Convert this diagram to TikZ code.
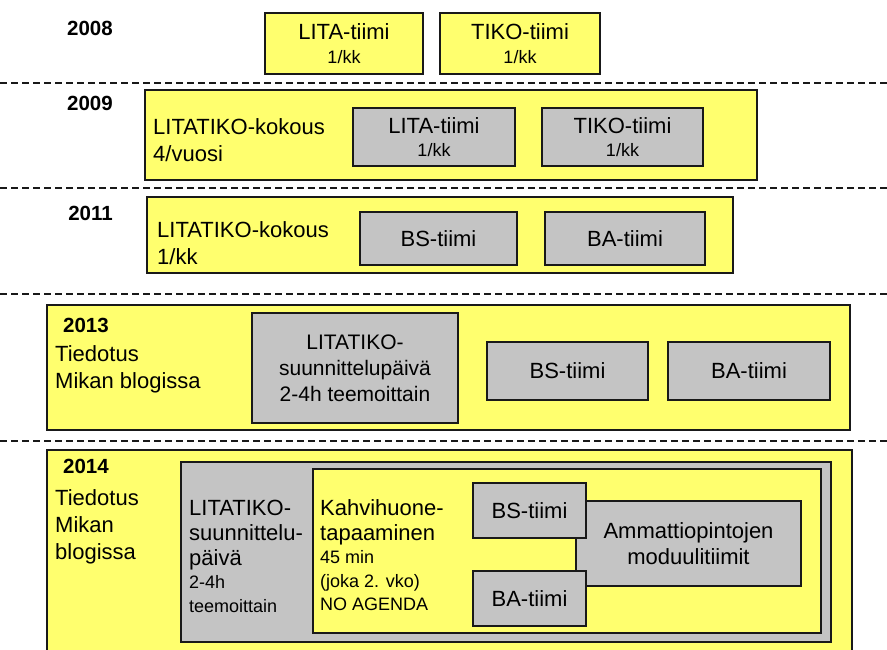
\documentclass[tikz,border=0pt]{standalone}
\usepackage{fontspec}
\setmainfont{Liberation Sans}
\usepackage{xcolor}
\definecolor{teamyellow}{RGB}{255,255,110}
\definecolor{teamgray}{RGB}{196,196,196}
\definecolor{inkdark}{RGB}{25,25,25}

\begin{document}
\begin{tikzpicture}[x=1pt,y=-1pt,
    yellowbox/.style={draw=inkdark,line width=1.8pt,fill=teamyellow,inner sep=0pt},
    graybox/.style={draw=inkdark,line width=1.8pt,fill=teamgray,inner sep=0pt,align=center,font=\fontsize{22}{26}\selectfont},
    yeartext/.style={font=\bfseries\fontsize{20.5}{24}\selectfont,inner sep=0pt},
    maintext/.style={align=left,inner sep=0pt,font=\fontsize{22}{27}\selectfont},
    smalltext/.style={align=left,inner sep=0pt,font=\fontsize{18}{23.5}\selectfont},
    sepline/.style={draw=inkdark,line width=1.5pt,dash pattern=on 7pt off 4pt}]
    \useasboundingbox (0,0) rectangle (887,649);
    \clip (0,0) rectangle (887,649);

    % 2008
    \node[yeartext,anchor=base east] (y2008) at (113,35.5) {2008};
    \node[graybox,fill=teamyellow,minimum width=158pt,minimum height=61pt] (lita08) at (344,43.5) {LITA-tiimi\\[-2pt]\fontsize{18}{20}\selectfont 1/kk};
    \node[graybox,fill=teamyellow,minimum width=160pt,minimum height=61pt] (tiko08) at (520,43.5) {TIKO-tiimi\\[-2pt]\fontsize{18}{20}\selectfont 1/kk};

    % 2009
    \node[yellowbox,minimum width=612pt,minimum height=90pt] (frame09) at (451,135) {};
    \node[yeartext,anchor=base east] (y2009) at (113,110.5) {2009};
    \node[maintext,anchor=base west] (meet09) at (153,161) {LITATIKO-kokous\\4/vuosi};
    \node[graybox,minimum width=162pt,minimum height=58pt] (lita09) at (434,137) {LITA-tiimi\\[-3pt]\fontsize{18}{20}\selectfont 1/kk};
    \node[graybox,minimum width=161pt,minimum height=58pt] (tiko09) at (622.5,137) {TIKO-tiimi\\[-3pt]\fontsize{18}{20}\selectfont 1/kk};

    % 2011
    \node[yellowbox,minimum width=586pt,minimum height=76pt] (frame11) at (440,235) {};
    \node[yeartext,anchor=base east] (y2011) at (113,220.5) {2011};
    \node[maintext,anchor=base west] (meet11) at (157,264) {LITATIKO-kokous\\1/kk};
    \node[graybox,minimum width=157pt,minimum height=53pt] (bs11) at (438.5,238.5) {BS-tiimi};
    \node[graybox,minimum width=160pt,minimum height=53pt] (ba11) at (625,238.5) {BA-tiimi};

    % 2013
    \node[yellowbox,minimum width=803pt,minimum height=125pt] (frame13) at (448.5,367.5) {};
    \node[yeartext,anchor=base west] (y2013) at (63,332.5) {2013};
    \node[maintext,anchor=base west] (info13) at (55,388) {Tiedotus\\Mikan blogissa};
    \node[graybox,minimum width=206pt,minimum height=110pt,font=\fontsize{21}{26}\selectfont] (plan13) at (355,368) {LITATIKO-\\suunnittelupäivä\\2-4h teemoittain};
    \node[graybox,minimum width=161pt,minimum height=58pt] (bs13) at (567.5,371) {BS-tiimi};
    \node[graybox,minimum width=162pt,minimum height=58pt] (ba13) at (749,371) {BA-tiimi};

    % 2014
    \node[yellowbox,minimum width=805pt,minimum height=230pt] (frame14) at (449.5,565) {};
    \node[yeartext,anchor=base west] (y2014) at (63,473.5) {2014};
    \node[maintext,anchor=base west] (info14) at (55,559) {Tiedotus\\Mikan\\blogissa};
    \node[graybox,minimum width=650pt,minimum height=180pt] (plan14) at (506,552) {};
    \node[maintext,anchor=base west,font=\fontsize{22}{25}\selectfont] (plantext14) at (189,565) {LITATIKO-\\suunnittelu-\\päivä};
    \node[smalltext,anchor=base west,font=\fontsize{18}{24}\selectfont] (plantime14) at (189,612.5) {2-4h\\teemoittain};
    \node[yellowbox,minimum width=508pt,minimum height=164pt] (coffee14) at (567,551) {};
    \node[maintext,anchor=base west,font=\fontsize{22}{25}\selectfont] (coffeetext14) at (320,540) {Kahvihuone-\\tapaaminen};
    \node[smalltext,anchor=base west] (coffeetime14) at (320,610.5) {45 min\\(joka 2. vko)\\NO AGENDA};
    \node[graybox,minimum width=225pt,minimum height=85pt] (module14) at (688.5,543.5) {Ammattiopintojen\\moduulitiimit};
    \node[graybox,minimum width=113pt,minimum height=55pt] (bs14) at (529.5,510.5) {BS-tiimi};
    \node[graybox,minimum width=113pt,minimum height=55pt] (ba14) at (529.5,598.5) {BA-tiimi};

    % dashed separators between the years
    \foreach \ypos in {83,188,294,441}
        \draw[sepline] (0,\ypos) -- (887,\ypos);
\end{tikzpicture}
\end{document}
